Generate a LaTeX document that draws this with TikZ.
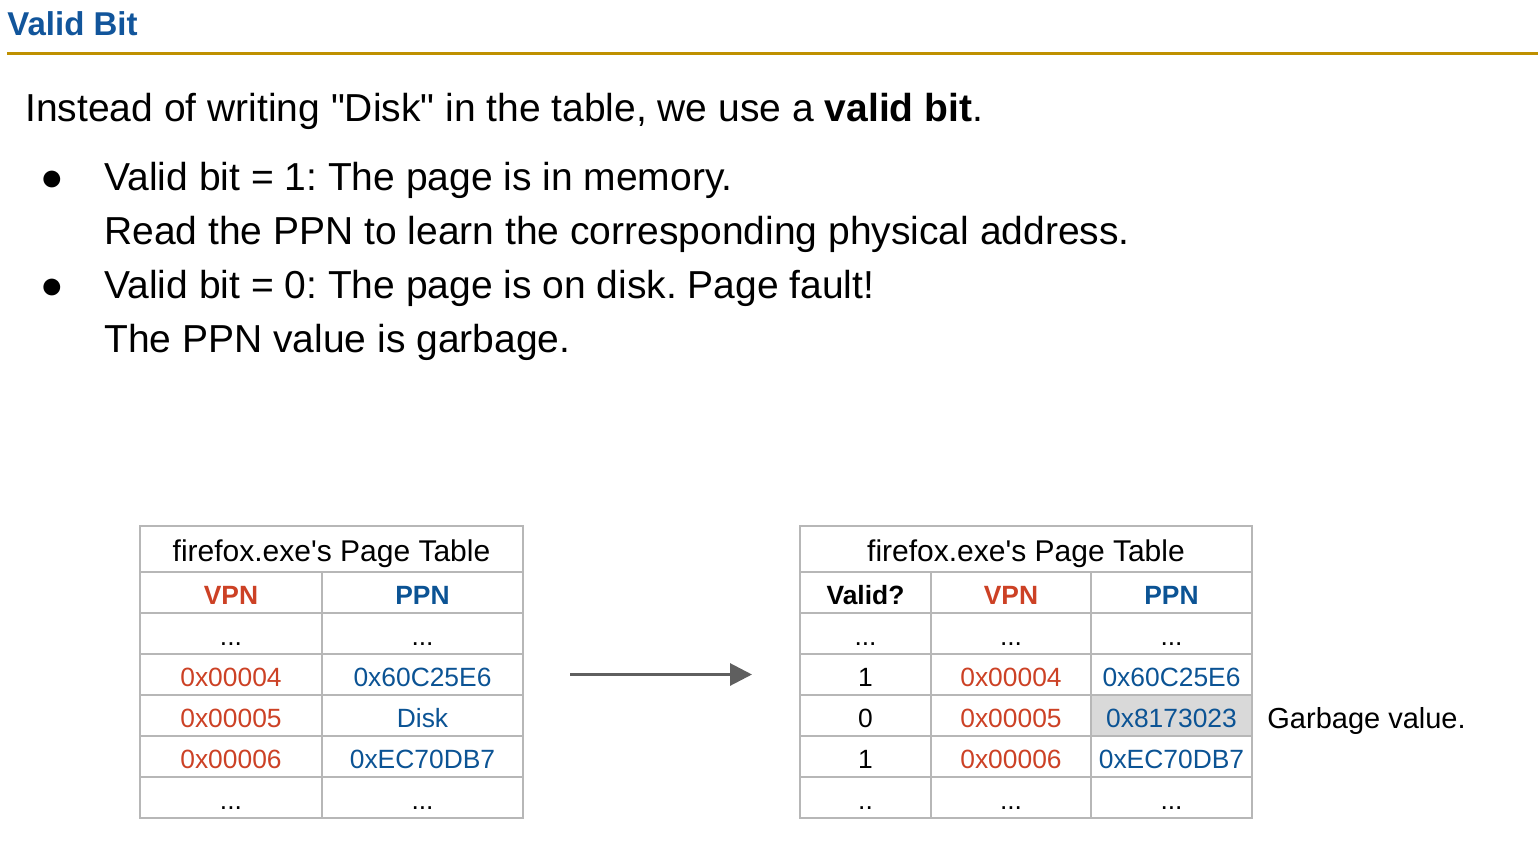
\documentclass[tikz,border=0pt]{standalone}
\usepackage{fontspec}
\setmainfont{Liberation Sans}
\usetikzlibrary{arrows.meta}
\frenchspacing

\definecolor{titleblue}{RGB}{17,85,155}
\definecolor{rulegold}{RGB}{191,144,0}
\definecolor{vpnred}{RGB}{204,65,37}
\definecolor{ppnblue}{RGB}{11,83,148}
\definecolor{gridgrey}{RGB}{183,183,183}
\definecolor{shadegrey}{RGB}{217,217,217}
\definecolor{arrowgrey}{RGB}{95,95,95}

\tikzset{
    bodytext/.style={anchor=base west, inner sep=0pt, font=\fontsize{19.5}{23}\selectfont},
    cell/.style={draw=gridgrey, line width=1pt, inner sep=0pt,
        text height=12pt, text depth=0.5pt,
        minimum height=20.5pt, font=\fontsize{13.2}{16}\selectfont},
    headcell/.style={cell, minimum height=23pt, text height=13pt, text depth=0.5pt,
        font=\fontsize{15}{18}\selectfont},
    vpn/.style={cell, text=vpnred},
    ppn/.style={cell, text=ppnblue},
    flow/.style={draw=arrowgrey, line width=1.5pt,
        -{Triangle[length=11pt,width=11pt]}},
}

\begin{document}
\begin{tikzpicture}[x=0.5pt, y=-0.5pt]
    \useasboundingbox (0,0) rectangle (1538,868);

    % title
    \node[anchor=base west, inner sep=0pt, text=titleblue,
        font=\fontsize{16.5}{20}\selectfont\bfseries] (title) at (7,35) {Valid Bit};
    \draw[rulegold, line width=1.5pt] (7,53) -- (1538,53);

    % text
    \node[bodytext] (intro) at (25,121) {Instead of writing \textquotedbl Disk\textquotedbl\ in the table, we use a \textbf{valid bit}.};
    \node[bodytext] (bulleta) at (40,190) {●};
    \node[bodytext] (linea) at (104,190) {Valid bit = 1: The page is in memory.};
    \node[bodytext] (lineb) at (104,244) {Read the PPN to learn the corresponding physical address.};
    \node[bodytext] (bulletb) at (40,298) {●};
    \node[bodytext] (linec) at (104,298) {Valid bit = 0: The page is on disk. Page fault!};
    \node[bodytext] (lined) at (104,352) {The PPN value is garbage.};

    % left page table
    \node[headcell, minimum width=191.5pt] (ltitle) at (331.5,549) {firefox.exe\textquotesingle s Page Table};
    \node[vpn, minimum width=91pt, font=\fontsize{13.2}{16}\selectfont\bfseries] (lvpn0) at (231,592.5) {VPN};
    \node[ppn, minimum width=100.5pt, font=\fontsize{13.2}{16}\selectfont\bfseries] (lppn0) at (422.5,592.5) {PPN};
    \node[cell, minimum width=91pt] (lvpn1) at (231,633.5) {...};
    \node[cell, minimum width=100.5pt] (lppn1) at (422.5,633.5) {...};
    \node[vpn, minimum width=91pt] (lvpn2) at (231,674.5) {0x00004};
    \node[ppn, minimum width=100.5pt] (lppn2) at (422.5,674.5) {0x60C25E6};
    \node[vpn, minimum width=91pt] (lvpn3) at (231,715.5) {0x00005};
    \node[ppn, minimum width=100.5pt] (lppn3) at (422.5,715.5) {Disk};
    \node[vpn, minimum width=91pt] (lvpn4) at (231,756.5) {0x00006};
    \node[ppn, minimum width=100.5pt] (lppn4) at (422.5,756.5) {0xEC70DB7};
    \node[cell, minimum width=91pt] (lvpn5) at (231,797.5) {...};
    \node[cell, minimum width=100.5pt] (lppn5) at (422.5,797.5) {...};

    % right page table
    \node[headcell, minimum width=226pt] (rtitle) at (1026,549) {firefox.exe\textquotesingle s Page Table};
    \node[cell, minimum width=65.5pt, font=\fontsize{13.2}{16}\selectfont\bfseries] (rvalid0) at (865.5,592.5) {Valid?};
    \node[vpn, minimum width=80pt, font=\fontsize{13.2}{16}\selectfont\bfseries] (rvpn0) at (1011,592.5) {VPN};
    \node[ppn, minimum width=80.5pt, font=\fontsize{13.2}{16}\selectfont\bfseries] (rppn0) at (1171.5,592.5) {PPN};
    \node[cell, minimum width=65.5pt] (rvalid1) at (865.5,633.5) {...};
    \node[cell, minimum width=80pt] (rvpn1) at (1011,633.5) {...};
    \node[cell, minimum width=80.5pt] (rppn1) at (1171.5,633.5) {...};
    \node[cell, minimum width=65.5pt] (rvalid2) at (865.5,674.5) {1};
    \node[vpn, minimum width=80pt] (rvpn2) at (1011,674.5) {0x00004};
    \node[ppn, minimum width=80.5pt] (rppn2) at (1171.5,674.5) {0x60C25E6};
    \node[cell, minimum width=65.5pt] (rvalid3) at (865.5,715.5) {0};
    \node[vpn, minimum width=80pt] (rvpn3) at (1011,715.5) {0x00005};
    \node[ppn, minimum width=80.5pt, fill=shadegrey] (rppn3) at (1171.5,715.5) {0x8173023};
    \node[cell, minimum width=65.5pt] (rvalid4) at (865.5,756.5) {1};
    \node[vpn, minimum width=80pt] (rvpn4) at (1011,756.5) {0x00006};
    \node[ppn, minimum width=80.5pt] (rppn4) at (1171.5,756.5) {0xEC70DB7};
    \node[cell, minimum width=65.5pt] (rvalid5) at (865.5,797.5) {..};
    \node[cell, minimum width=80pt] (rvpn5) at (1011,797.5) {...};
    \node[cell, minimum width=80.5pt] (rppn5) at (1171.5,797.5) {...};

    \node[anchor=base west, inner sep=0pt, font=\fontsize{14.5}{17}\selectfont] (garbage) at (1267,728) {Garbage value.};

    % arrow between the tables
    \draw[flow, shorten <=23pt, shorten >=23.5pt] (lppn2.east) -- (rvalid2.west);

\end{tikzpicture}
\end{document}
